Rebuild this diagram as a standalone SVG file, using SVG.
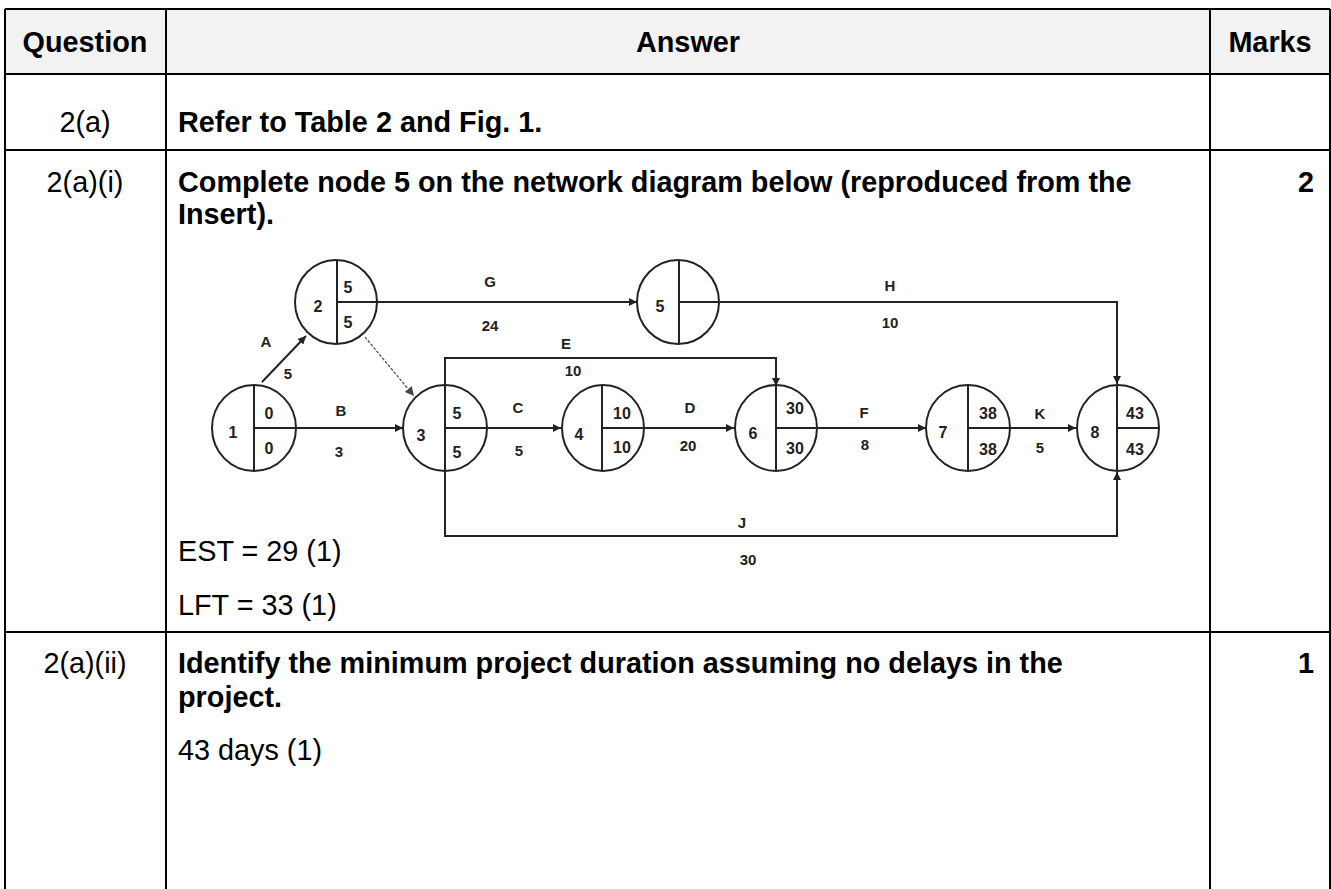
<svg xmlns="http://www.w3.org/2000/svg" width="1331" height="889" viewBox="0 0 1331 889">
<style>
.t{font-family:"Liberation Sans",Arial,sans-serif;font-size:28.8px;fill:#000}
.b{font-weight:bold}
.grid{stroke:#000;stroke-width:2;fill:none}
.n{fill:#fff;stroke:#222;stroke-width:2}
.d{stroke:#222;stroke-width:2}
.nt{font-family:"Liberation Sans",Arial,sans-serif;font-size:16px;font-weight:bold;fill:#222;text-anchor:middle}
.lb{font-family:"Liberation Sans",Arial,sans-serif;font-size:15px;font-weight:bold;fill:#222;text-anchor:middle}
.c{stroke:#222;stroke-width:2;fill:none}
</style>
<defs>
<marker id="ah" viewBox="0 0 10 10" refX="10" refY="5" markerWidth="4" markerHeight="4" orient="auto" markerUnits="strokeWidth">
<path d="M0,0 L10,5 L0,10 z" fill="#222"/>
</marker>
<marker id="ahs" viewBox="0 0 10 10" refX="10" refY="5" markerWidth="7" markerHeight="7" orient="auto" markerUnits="strokeWidth">
<path d="M0,0 L10,5 L0,10 z" fill="#444"/>
</marker>
</defs>
<rect width="1331" height="889" fill="#fff"/>
<g id="table">
<rect x="5" y="9" width="1325" height="65" fill="#f2f2f2"/>
<path class="grid" d="M5,9 H1330 M5,74 H1330 M5,150 H1330 M5,632 H1330 M5,9 V889 M166,9 V889 M1210,9 V889 M1330,9 V889"/>
<text class="t b" x="85" y="52" text-anchor="middle">Question</text>
<text class="t b" x="688" y="52" text-anchor="middle">Answer</text>
<text class="t b" x="1270" y="52" text-anchor="middle">Marks</text>
<text class="t" x="85" y="132" text-anchor="middle">2(a)</text>
<text class="t b" x="178" y="132">Refer to Table 2 and Fig. 1.</text>
<text class="t" x="85" y="192" text-anchor="middle">2(a)(i)</text>
<text class="t b" x="178" y="192">Complete node 5 on the network diagram below (reproduced from the</text>
<text class="t b" x="178" y="224">Insert).</text>
<text class="t b" x="1314" y="192" text-anchor="end">2</text>
<text class="t" x="178" y="561">EST = 29 (1)</text>
<text class="t" x="178" y="615">LFT = 33 (1)</text>
<text class="t" x="85" y="673" text-anchor="middle">2(a)(ii)</text>
<text class="t b" x="178" y="673">Identify the minimum project duration assuming no delays in the</text>
<text class="t b" x="178" y="707">project.</text>
<text class="t b" x="1314" y="673" text-anchor="end">1</text>
<text class="t" x="178" y="760">43 days (1)</text>
</g>
<g id="connectors">
<path class="c" d="M262,382 L306,336" marker-end="url(#ah)"/>
<path d="M365,337 L414,396" stroke="#555" stroke-width="1.3" fill="none" stroke-dasharray="3,1.5" marker-end="url(#ahs)"/>
<path class="c" d="M377,302 H637" marker-end="url(#ah)"/>
<path class="c" d="M720,302 H1117 V384" marker-end="url(#ah)"/>
<path class="c" d="M445,385 V358 H776 V386" marker-end="url(#ah)"/>
<path class="c" d="M297,428 H403" marker-end="url(#ah)"/>
<path class="c" d="M487,428 H561" marker-end="url(#ah)"/>
<path class="c" d="M645,428 H734" marker-end="url(#ah)"/>
<path class="c" d="M818,428 H926" marker-end="url(#ah)"/>
<path class="c" d="M1010,428 H1076" marker-end="url(#ah)"/>
<path class="c" d="M445,470 V536 H1117 V472" marker-end="url(#ah)"/>
<text class="lb" x="266" y="347">A</text>
<text class="lb" x="288" y="379">5</text>
<text class="lb" x="490" y="287">G</text>
<text class="lb" x="490" y="331">24</text>
<text class="lb" x="890" y="291">H</text>
<text class="lb" x="890" y="328">10</text>
<text class="lb" x="566" y="349">E</text>
<text class="lb" x="573" y="376">10</text>
<text class="lb" x="341" y="416">B</text>
<text class="lb" x="339" y="457">3</text>
<text class="lb" x="518" y="413">C</text>
<text class="lb" x="519" y="456">5</text>
<text class="lb" x="690" y="413">D</text>
<text class="lb" x="688" y="451">20</text>
<text class="lb" x="864" y="418">F</text>
<text class="lb" x="865" y="450">8</text>
<text class="lb" x="1040" y="419">K</text>
<text class="lb" x="1040" y="453">5</text>
<text class="lb" x="742" y="528">J</text>
<text class="lb" x="748" y="565">30</text>
</g>
<g id="node1">
<ellipse class="n" cx="254" cy="428" rx="42" ry="43"/>
<path class="d" d="M254,385 V471 M254,428 H296"/>
<text class="nt" x="233" y="438">1</text>
<text class="nt" x="269" y="419">0</text>
<text class="nt" x="269" y="454">0</text>
</g>
<g id="node2">
<ellipse class="n" cx="336" cy="302" rx="41" ry="42"/>
<path class="d" d="M337,260 V344 M337,302 H377"/>
<text class="nt" x="318" y="312">2</text>
<text class="nt" x="348" y="293">5</text>
<text class="nt" x="348" y="328">5</text>
</g>
<g id="node3">
<ellipse class="n" cx="445" cy="428" rx="42" ry="43"/>
<path class="d" d="M445,385 V471 M445,428 H487"/>
<text class="nt" x="421" y="441">3</text>
<text class="nt" x="457" y="419">5</text>
<text class="nt" x="457" y="458">5</text>
</g>
<g id="node4">
<ellipse class="n" cx="603" cy="428" rx="41" ry="43"/>
<path class="d" d="M602,385 V471 M602,428 H644"/>
<text class="nt" x="579" y="440">4</text>
<text class="nt" x="622" y="419">10</text>
<text class="nt" x="622" y="453">10</text>
</g>
<g id="node5">
<ellipse class="n" cx="678" cy="302" rx="41" ry="42"/>
<path class="d" d="M679,260 V344 M679,302 H719"/>
<text class="nt" x="660" y="312">5</text>
</g>
<g id="node6">
<ellipse class="n" cx="776" cy="428" rx="41" ry="43"/>
<path class="d" d="M776,385 V471 M776,428 H817"/>
<text class="nt" x="753" y="439">6</text>
<text class="nt" x="795" y="414">30</text>
<text class="nt" x="795" y="454">30</text>
</g>
<g id="node7">
<ellipse class="n" cx="968" cy="428" rx="42" ry="43"/>
<path class="d" d="M968,385 V471 M968,428 H1010"/>
<text class="nt" x="943" y="438">7</text>
<text class="nt" x="988" y="419">38</text>
<text class="nt" x="988" y="455">38</text>
</g>
<g id="node8">
<ellipse class="n" cx="1118" cy="428" rx="41" ry="43"/>
<path class="d" d="M1117,385 V471 M1117,428 H1159"/>
<text class="nt" x="1095" y="438">8</text>
<text class="nt" x="1135" y="419">43</text>
<text class="nt" x="1135" y="455">43</text>
</g>
</svg>
